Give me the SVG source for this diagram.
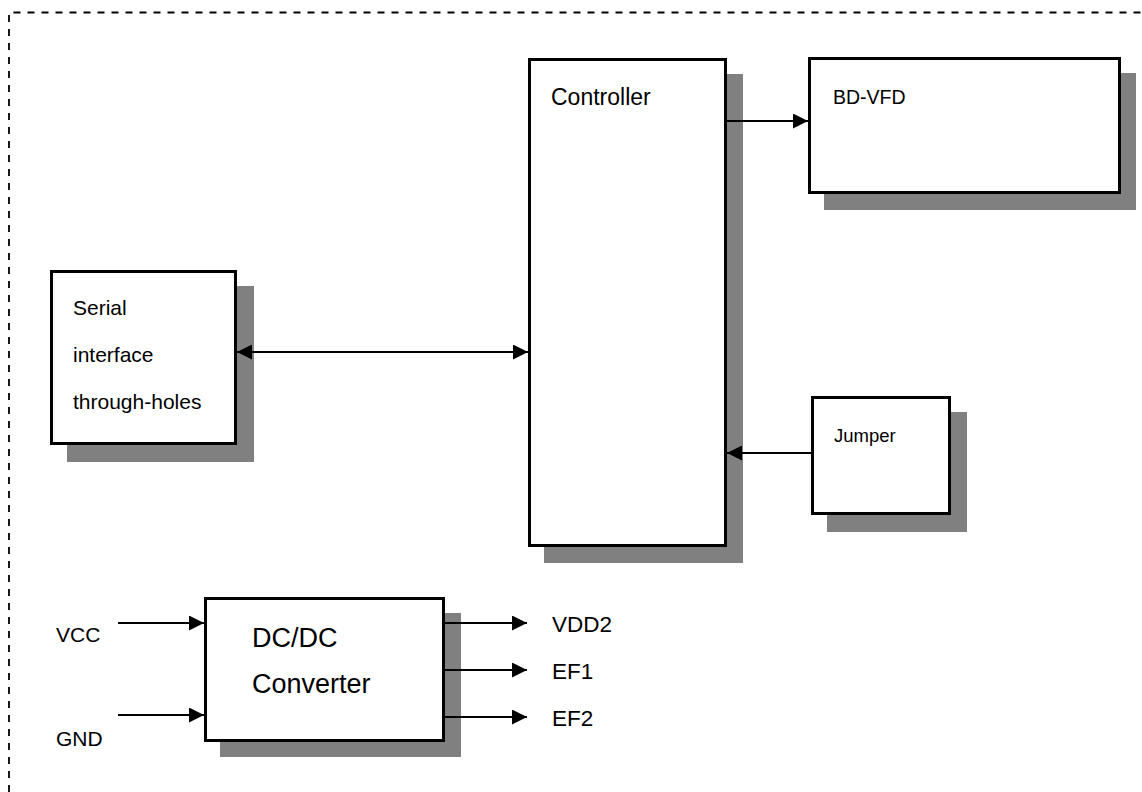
<svg xmlns="http://www.w3.org/2000/svg" width="1142" height="792" viewBox="0 0 1142 792">
<defs>
<style>
.box{fill:#fff;stroke:#000;stroke-width:3}
.shadow{fill:#808080}
.border{fill:none;stroke:#000;stroke-width:1.8;stroke-dasharray:7 7}
.ln{fill:none;stroke:#000;stroke-width:2}
text{font-family:"Liberation Sans",Arial,sans-serif;fill:#000}
</style>
<marker id="ah" viewBox="0 0 15 15" refX="15" refY="7.5" markerWidth="15" markerHeight="15" markerUnits="userSpaceOnUse" orient="auto-start-reverse">
<path d="M0,0 L15,7.5 L0,15 Z" fill="#000"/>
</marker>
</defs>
<rect width="1142" height="792" fill="#fff"/>
<g id="border">
<path class="border" d="M9,792 L9,12.5 L1142,12.5"/>
</g>
<g id="controller">
<rect class="shadow" x="544" y="74" width="199" height="489"/>
<rect class="box" x="529.5" y="59.5" width="196" height="486"/>
<text x="551" y="105" font-size="23">Controller</text>
</g>
<g id="bd-vfd">
<rect class="shadow" x="824" y="73" width="312" height="137"/>
<rect class="box" x="809.5" y="58.5" width="310" height="134"/>
<text x="833" y="104" font-size="19.5">BD-VFD</text>
</g>
<g id="serial">
<rect class="shadow" x="67" y="286" width="187" height="176"/>
<rect class="box" x="51.5" y="271.5" width="184" height="172"/>
<text x="73" y="315" font-size="21">Serial</text>
<text x="73" y="362" font-size="21">interface</text>
<text x="73" y="409" font-size="21">through-holes</text>
</g>
<g id="jumper">
<rect class="shadow" x="827" y="412" width="140" height="120"/>
<rect class="box" x="812.5" y="397.5" width="137" height="116"/>
<text x="834" y="442" font-size="18.5">Jumper</text>
</g>
<g id="dcdc">
<rect class="shadow" x="220" y="613" width="241" height="144"/>
<rect class="box" x="205.5" y="598.5" width="238" height="142"/>
<text x="252" y="647" font-size="27">DC/DC</text>
<text x="252" y="693" font-size="27">Converter</text>
</g>
<g id="labels">
<text x="56" y="642" font-size="21">VCC</text>
<text x="56" y="746" font-size="21">GND</text>
<text x="552" y="632" font-size="22.5">VDD2</text>
<text x="552" y="679" font-size="22.5">EF1</text>
<text x="552" y="726" font-size="22.5">EF2</text>
</g>
<g id="connectors">
<line class="ln" x1="727" y1="121" x2="808" y2="121" marker-end="url(#ah)"/>
<line class="ln" x1="237" y1="352" x2="528" y2="352" marker-start="url(#ah)" marker-end="url(#ah)"/>
<line class="ln" x1="811" y1="453" x2="727" y2="453" marker-end="url(#ah)"/>
<line class="ln" x1="118" y1="623" x2="204" y2="623" marker-end="url(#ah)"/>
<line class="ln" x1="118" y1="715" x2="204" y2="715" marker-end="url(#ah)"/>
<line class="ln" x1="445" y1="623" x2="527" y2="623" marker-end="url(#ah)"/>
<line class="ln" x1="445" y1="670" x2="527" y2="670" marker-end="url(#ah)"/>
<line class="ln" x1="445" y1="717" x2="527" y2="717" marker-end="url(#ah)"/>
</g>
</svg>
